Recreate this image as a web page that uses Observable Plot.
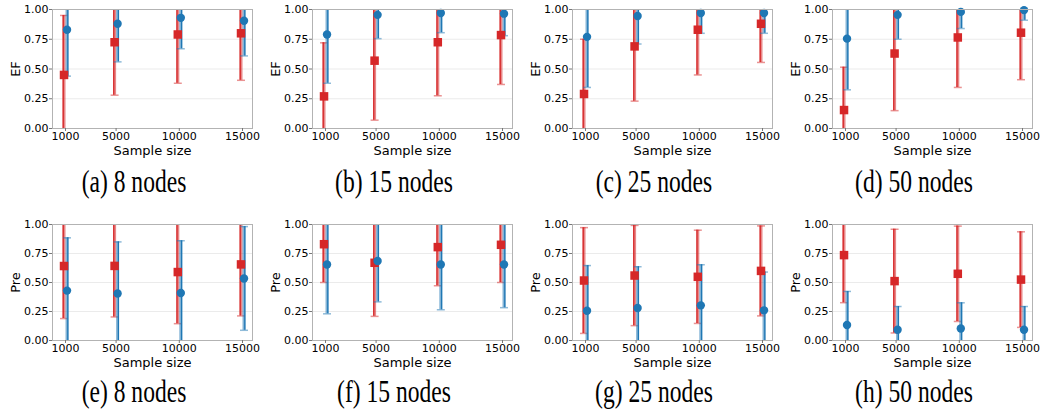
<!DOCTYPE html>
<html><head><meta charset="utf-8">
<script src="https://cdn.jsdelivr.net/npm/d3@7"></script>
<script src="https://cdn.jsdelivr.net/npm/@observablehq/plot@0.6"></script>
<style>
body{margin:0;background:#fff;}
#root{position:relative;width:1042px;height:411px;overflow:hidden;background:#fff;}
.panel{position:absolute;}
.cap{position:absolute;width:260px;text-align:center;font-family:"Liberation Serif","Times New Roman",serif;font-size:31px;line-height:31px;color:#000;transform:scaleX(0.76);transform-origin:center;white-space:nowrap;}
</style></head><body><div id="root"></div>
<script>
// ---- data ----
const sampleSizes = [1000, 5000, 10000, 15000];
const nodeCounts = [8, 15, 25, 50];
const panelLetters = ["a", "b", "c", "d", "e", "f", "g", "h"];
const metricLabels = ["EF", "Pre"];
const yTicks = [0, 0.25, 0.5, 0.75, 1];

// EF (top row), one inner array per node count, values per sample size
const efBlueMean = [[0.83, 0.88, 0.93, 0.905], [0.79, 0.955, 0.97, 0.965], [0.77, 0.945, 0.97, 0.97], [0.755, 0.955, 0.98, 0.995]];
const efBlueSd   = [[0.39, 0.32, 0.26, 0.295], [0.41, 0.20, 0.165, 0.185], [0.425, 0.235, 0.17, 0.17], [0.43, 0.205, 0.14, 0.085]];
const efRedMean  = [[0.45, 0.725, 0.79, 0.80], [0.27, 0.57, 0.725, 0.785], [0.29, 0.69, 0.83, 0.88], [0.155, 0.63, 0.765, 0.805]];
const efRedSd    = [[0.50, 0.445, 0.41, 0.395], [0.45, 0.50, 0.45, 0.415], [0.46, 0.46, 0.38, 0.325], [0.36, 0.48, 0.42, 0.395]];

// Pre (bottom row)
const preBlueMean = [[0.43, 0.405, 0.41, 0.535], [0.655, 0.685, 0.655, 0.655], [0.256, 0.28, 0.303, 0.26], [0.133, 0.093, 0.103, 0.093]];
const preBlueSd   = [[0.455, 0.445, 0.45, 0.447], [0.425, 0.352, 0.39, 0.372], [0.39, 0.356, 0.35, 0.33], [0.29, 0.20, 0.222, 0.20]];
const preRedMean  = [[0.642, 0.643, 0.59, 0.656], [0.83, 0.67, 0.805, 0.825], [0.517, 0.56, 0.549, 0.60], [0.736, 0.512, 0.575, 0.525]];
const preRedSd    = [[0.453, 0.44, 0.445, 0.444], [0.33, 0.462, 0.333, 0.325], [0.456, 0.432, 0.402, 0.388], [0.41, 0.447, 0.411, 0.412]];

const BLUE = "#1f77b4", RED = "#d62728";

const rowsSpec = [
  {label: metricLabels[0], blueMean: efBlueMean, blueSd: efBlueSd, redMean: efRedMean, redSd: efRedSd, top: 0, marginTop: 9, height: 160},
  {label: metricLabels[1], blueMean: preBlueMean, blueSd: preBlueSd, redMean: preRedMean, redSd: preRedSd, top: 210, marginTop: 14, height: 162}
];

const capSymbol = {draw(ctx, size) { const w = Math.sqrt(size / Math.PI); ctx.moveTo(-w, 0); ctx.lineTo(w, 0); }};

function seriesMarks(mean, sd, color, dx, darkDx) {
  const data = sampleSizes.map((s, k) => ({x: s, y: mean[k], lo: mean[k] - sd[k], hi: mean[k] + sd[k]}));
  return [
    Plot.ruleX(data, {x: "x", y1: "lo", y2: "hi", stroke: color, strokeWidth: 3, strokeOpacity: 0.55, dx, clip: true}),
    Plot.ruleX(data, {x: "x", y1: "lo", y2: "hi", stroke: color, strokeWidth: 1.3, dx: dx + darkDx, clip: true}),
    Plot.dot(data, {x: "x", y: "lo", symbol: capSymbol, r: 4, stroke: color, strokeWidth: 1.5, strokeOpacity: 0.5, fill: "none", dx, clip: true}),
    Plot.dot(data, {x: "x", y: "hi", symbol: capSymbol, r: 4, stroke: color, strokeWidth: 1.5, strokeOpacity: 0.5, fill: "none", dx, clip: true})
  ];
}
function markerMarks(mean, color, dx, symbol, r) {
  const data = sampleSizes.map((s, k) => ({x: s, y: mean[k]}));
  return Plot.dot(data, {x: "x", y: "y", symbol, r, fill: color, stroke: "none", dx});
}

const root = document.getElementById("root");
rowsSpec.forEach((row, ri) => {
  nodeCounts.forEach((n, ci) => {
    const frameH = ri === 0 ? 119 : 116;
    const chart = Plot.plot({
      width: 260, height: row.height,
      marginLeft: 52, marginRight: 8, marginTop: row.marginTop, marginBottom: row.height - row.marginTop - frameH,
      style: {fontFamily: "DejaVu Sans, sans-serif", fontSize: "11px", color: "#000", background: "#fff", overflow: "visible"},
      x: {type: "linear", domain: [-30, 15790]},
      y: {domain: [0, 1]},
      marks: [
        Plot.gridY([0.25, 0.5, 0.75], {stroke: "#ebebeb", strokeOpacity: 1}),
        ...seriesMarks(row.redMean[ci], row.redSd[ci], RED, -1.5, -0.8),
        ...seriesMarks(row.blueMean[ci], row.blueSd[ci], BLUE, 1.5, 0.8),
        markerMarks(row.redMean[ci], RED, -1.5, "square", 4.8),
        markerMarks(row.blueMean[ci], BLUE, 1.5, "circle", 4.2),
        Plot.frame({stroke: "#b3b3b3"}),
        Plot.axisY({ticks: yTicks, tickFormat: d3.format(".2f"), tickSize: 3, tickPadding: 1, label: null, stroke: "#777", fill: "#000", fontSize: 11}),
        Plot.axisX({ticks: sampleSizes, tickFormat: d => String(d), tickSize: 3, tickPadding: 1, label: null, stroke: "#777", fill: "#000", fontSize: 11}),
        Plot.text([row.label], {frameAnchor: "left", textAnchor: "middle", lineAnchor: "middle", rotate: -90, dx: -37, fontSize: 13, fill: "#000"}),
        Plot.text(["Sample size"], {frameAnchor: "bottom", lineAnchor: "middle", dy: 22, fontSize: 13, fill: "#000"})
      ]
    });
    const wrap = document.createElement("div");
    wrap.className = "panel";
    wrap.style.left = (260 * ci) + "px";
    wrap.style.top = row.top + "px";
    wrap.appendChild(chart);
    root.appendChild(wrap);

    const cap = document.createElement("div");
    cap.className = "cap";
    cap.style.left = (260 * ci + 4) + "px";
    cap.style.top = (ri === 0 ? 166 : 376) + "px";
    cap.textContent = `(${panelLetters[ri * 4 + ci]}) ${n} nodes`;
    root.appendChild(cap);
  });
});
</script>
</body></html>
